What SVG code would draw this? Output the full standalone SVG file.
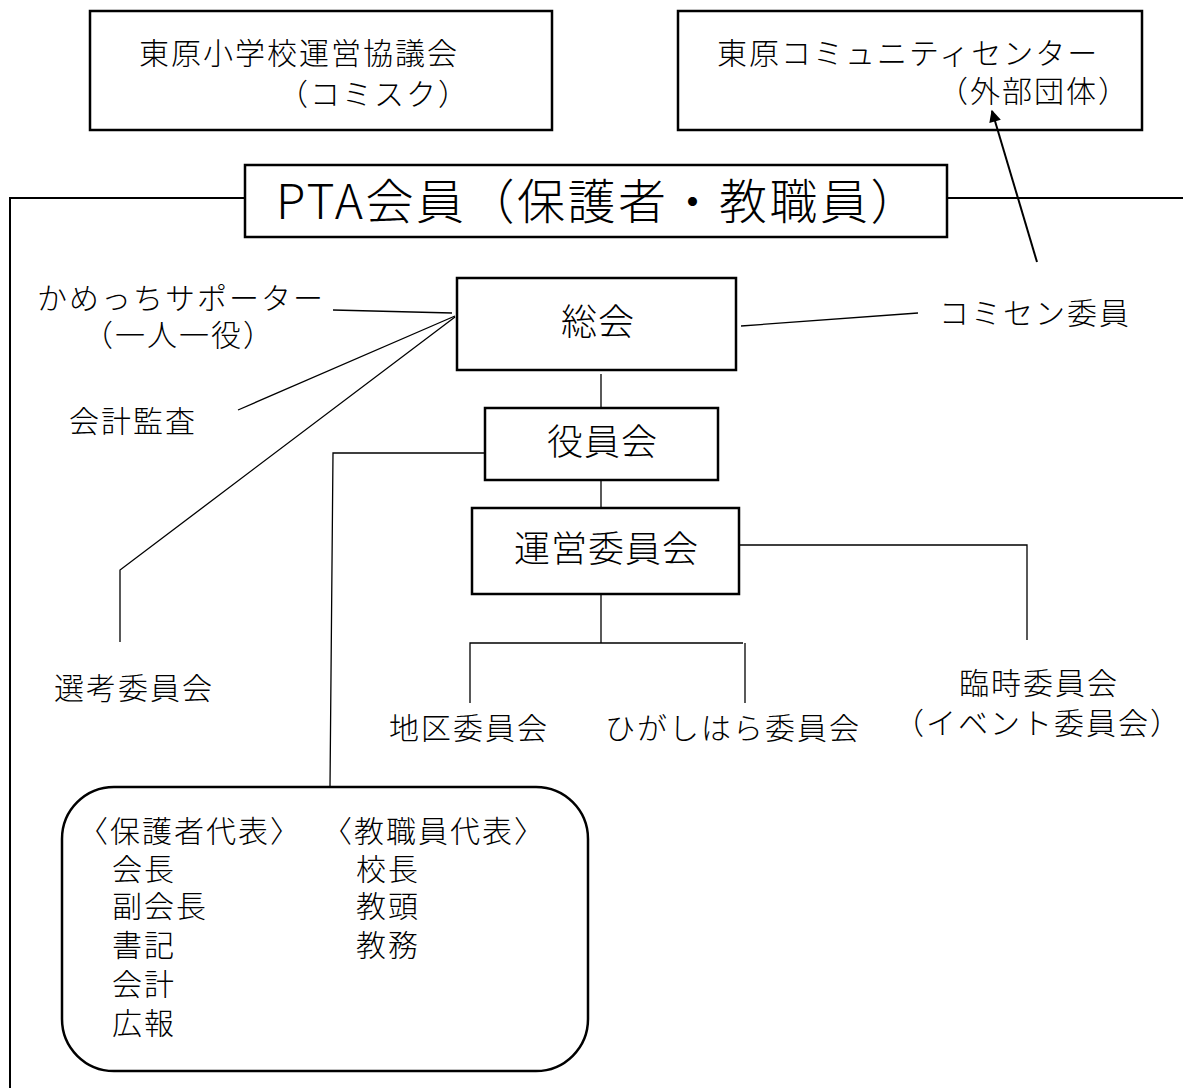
<svg xmlns="http://www.w3.org/2000/svg" width="1183" height="1088" viewBox="0 0 1183 1088">
<defs>
<style>
text{font-family:"Noto Sans CJK JP","Noto Sans CJK SC",sans-serif;fill:#000;font-weight:300}
.t{font-size:30px;letter-spacing:2px}
.b{font-size:36px;letter-spacing:1px;text-anchor:middle}
.box{fill:#fff;stroke:#000;stroke-width:2.5}
.ln{fill:none;stroke:#000;stroke-width:1.3}
.thk{fill:none;stroke:#000;stroke-width:2}
</style>
<marker id="ah" viewBox="0 0 10 10" refX="9" refY="5" markerWidth="16" markerHeight="12" orient="auto" markerUnits="userSpaceOnUse"><path d="M0,0 L10,5 L0,10 z" fill="#000"/></marker>
</defs>
<rect width="1183" height="1088" fill="#fff"/>
<g id="node-comisk">
<rect class="box" x="90" y="11" width="462" height="119"/>
<text class="t" x="139" y="64">東原小学校運営協議会</text>
<text class="t" x="278" y="105">（コミスク）</text>
</g>
<g id="node-comcenter">
<rect class="box" x="678" y="11" width="464" height="119"/>
<text class="t" x="717" y="64">東原コミュニティセンター</text>
<text class="t" x="938" y="102">（外部団体）</text>
</g>
<g id="node-pta">
<rect class="box" x="245" y="165" width="702" height="72"/>
<text x="276" y="219" style="font-size:48px;letter-spacing:2.5px">PTA会員（保護者・教職員）</text>
</g>
<g id="node-soukai">
<rect class="box" x="457" y="278" width="279" height="92"/>
<text class="b" x="598" y="335">総会</text>
</g>
<g id="node-yakuinkai">
<rect class="box" x="485" y="408" width="233" height="72"/>
<text class="b" x="602.5" y="455">役員会</text>
</g>
<g id="node-unei">
<rect class="box" x="472" y="508" width="267" height="86"/>
<text class="b" x="606.5" y="562">運営委員会</text>
</g>
<g id="node-kamecchi">
<text class="t" x="37" y="309">かめっちサポーター</text>
<text class="t" x="83" y="346">（一人一役）</text>
</g>
<g id="node-kaikei">
<text class="t" x="69" y="432">会計監査</text>
</g>
<g id="node-senkou">
<text class="t" x="54" y="699">選考委員会</text>
</g>
<g id="node-comisen">
<text class="t" x="939" y="324">コミセン委員</text>
</g>
<g id="node-chiku">
<text class="t" x="389" y="739">地区委員会</text>
</g>
<g id="node-higashihara">
<text class="t" x="605" y="739">ひがしはら委員会</text>
</g>
<g id="node-rinji">
<text class="t" x="959" y="694">臨時委員会</text>
<text class="t" x="894" y="734">（イベント委員会）</text>
</g>
<g id="node-officers">
<rect class="box" x="62" y="787" width="526" height="284" rx="52" ry="52"/>
<text class="t" x="78" y="842">〈保護者代表〉</text>
<text class="t" x="112" y="880">会長</text>
<text class="t" x="112" y="917">副会長</text>
<text class="t" x="112" y="956">書記</text>
<text class="t" x="112" y="995">会計</text>
<text class="t" x="112" y="1034">広報</text>
<text class="t" x="322" y="842">〈教職員代表〉</text>
<text class="t" x="356" y="880">校長</text>
<text class="t" x="356" y="917">教頭</text>
<text class="t" x="356" y="956">教務</text>
</g>
<g id="connectors">
<polyline class="thk" points="245,198 10,198 10,1088"/>
<line class="thk" x1="947" y1="198" x2="1183" y2="198"/>
<line class="thk" x1="1037" y1="262" x2="992" y2="111" marker-end="url(#ah)"/>
<line class="ln" x1="741" y1="326" x2="918" y2="313"/>
<line class="ln" x1="333" y1="310" x2="452" y2="313"/>
<line class="ln" x1="238" y1="410" x2="455" y2="316"/>
<polyline class="ln" points="120,642 120,570 455,317"/>
<line class="ln" x1="601" y1="374" x2="601" y2="408"/>
<polyline class="ln" points="485,453 333,453 330,787"/>
<line class="ln" x1="601" y1="480" x2="601" y2="508"/>
<polyline class="ln" points="739,545 1027,545 1027,640"/>
<line class="ln" x1="601" y1="594" x2="601" y2="643"/>
<polyline class="ln" points="470,703 470,643 743,643"/>
<line class="ln" x1="745" y1="643" x2="745" y2="703"/>
</g>
</svg>
